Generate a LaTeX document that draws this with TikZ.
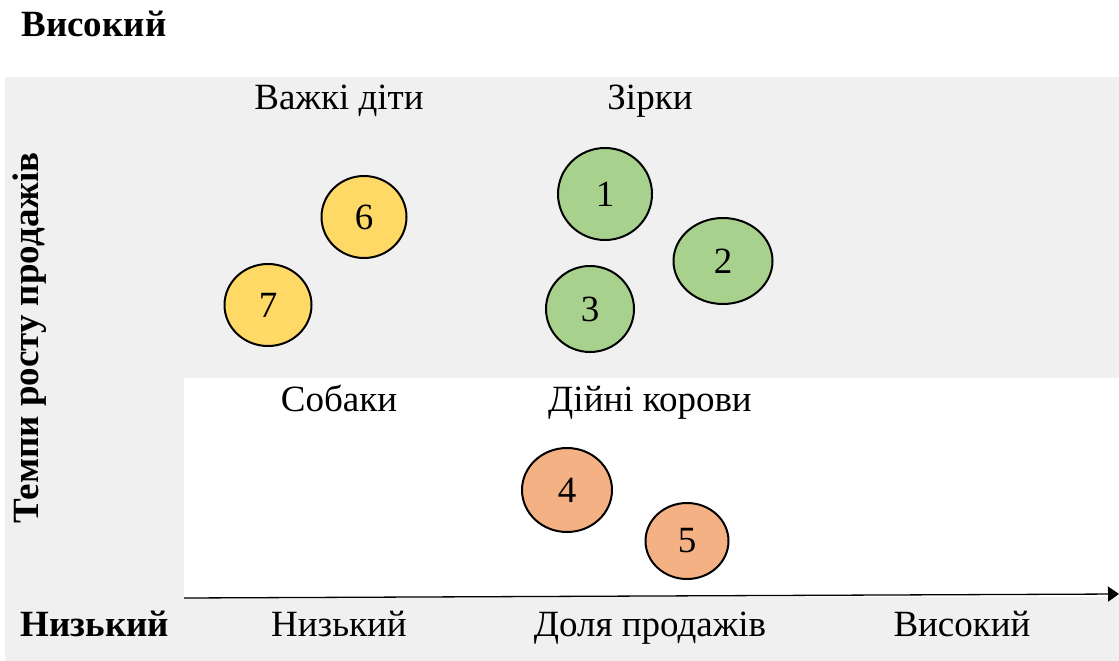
\documentclass[tikz,border=0pt]{standalone}
\usepackage{fontspec}
\setmainfont{Liberation Serif}
\definecolor{bggray}{HTML}{F0F0F0}
\definecolor{cgreen}{HTML}{A9D18E}
\definecolor{cyellow}{HTML}{FFD966}
\definecolor{corange}{HTML}{F4B183}
\tikzset{
  lbl/.style={font=\fontsize{37}{42}\selectfont, inner sep=0pt, anchor=base},
  blbl/.style={font=\fontsize{37}{42}\selectfont\bfseries, inner sep=0pt, anchor=base},
  bub/.style={draw=black, line width=2pt, ellipse, inner sep=0pt, font=\fontsize{37}{42}\selectfont},
}
\usetikzlibrary{shapes.geometric,arrows.meta}
\begin{document}
\begin{tikzpicture}[x=1pt,y=-1pt]
\useasboundingbox (0,0) rectangle (1119,661);
\fill[bggray] (5,77) rectangle (1119,661);
\fill[white] (184,378) rectangle (1119,597);
\coordinate (ax0) at (184,598);
\coordinate (ax1) at (1119,594);
\draw[line width=1.3pt, -{Triangle[length=11pt,width=15pt]}] (ax0) -- (ax1);
\node[blbl] (hi) at (94,37) {Високий};
\node[blbl] (lo) at (95,636) {Низький};
\node[font=\fontsize{37}{42}\selectfont\bfseries, inner sep=0pt, rotate=90] (yl) at (30,338) {Темпи росту продажів};
\node[lbl] (q1) at (339,110) {Важкі діти};
\node[lbl] (q2) at (650,110) {Зірки};
\node[lbl] (q3) at (339,411) {Собаки};
\node[lbl] (q4) at (650,411) {Дійні корови};
\node[lbl] (xlo) at (339,636) {Низький};
\node[lbl] (xl) at (650,636) {Доля продажів};
\node[lbl] (xhi) at (962,636) {Високий};
\node[bub, fill=cgreen, minimum width=94pt, minimum height=92pt] (b1) at (605,194) {1};
\node[bub, fill=cgreen, minimum width=99pt, minimum height=86pt] (b2) at (723,261) {2};
\node[bub, fill=cgreen, minimum width=88pt, minimum height=86pt] (b3) at (590,309) {3};
\node[bub, fill=corange, minimum width=90pt, minimum height=84pt] (b4) at (567,490) {4};
\node[bub, fill=corange, minimum width=83pt, minimum height=76pt] (b5) at (687,541) {5};
\node[bub, fill=cyellow, minimum width=85pt, minimum height=82pt] (b6) at (364,217) {6};
\node[bub, fill=cyellow, minimum width=87pt, minimum height=82pt] (b7) at (268,305) {7};
\end{tikzpicture}
\end{document}
